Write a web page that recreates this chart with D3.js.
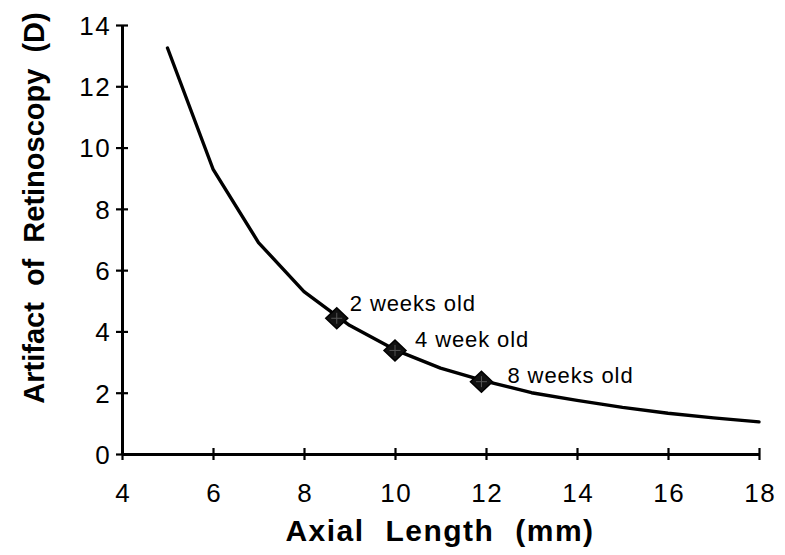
<!DOCTYPE html>
<html>
<head>
<meta charset="utf-8">
<script src="https://cdn.jsdelivr.net/npm/d3@7"></script>
<style>
  html, body { margin: 0; padding: 0; background: #fff; }
  svg { display: block; }
  text { font-family: "Liberation Sans", Arial, Helvetica, sans-serif; fill: #000; }
</style>
</head>
<body>
<svg id="chart" width="785" height="555"></svg>
<script>
// Curve: axial length (mm) vs artifact of retinoscopy (D)
const axialLength = [5, 6, 7, 8, 9, 10, 11, 12, 13, 14, 15, 16, 17, 18];
const artifact = [13.25, 9.3, 6.9, 5.3, 4.2, 3.4, 2.8, 2.37, 2.0, 1.75, 1.52, 1.33, 1.18, 1.05];

// Marked ages
const ageLabels = ["2 weeks old", "4 week old", "8 weeks old"];
const ageAxial = [8.72, 10.0, 11.9];
const ageArtifact = [4.43, 3.38, 2.36];

const xTicks = [4, 6, 8, 10, 12, 14, 16, 18];
const yTicks = [0, 2, 4, 6, 8, 10, 12, 14];

const svg = d3.select("#chart");
const x = d3.scaleLinear().domain([4, 18]).range([122, 759]);
const y = d3.scaleLinear().domain([0, 14]).range([454, 25]);

// Axes
const xAxis = svg.append("g").attr("transform", `translate(0,${y(0)})`)
  .call(d3.axisBottom(x).tickValues(xTicks).tickSize(0).tickPadding(0).tickFormat(() => ""));
xAxis.select(".domain").attr("stroke", "#000").attr("stroke-width", 3);
xAxis.selectAll(".tick line").attr("y1", -6).attr("y2", 6).attr("stroke", "#000").attr("stroke-width", 2.2);
xAxis.selectAll(".tick").append("text")
  .attr("y", 48).attr("x", 0.7).attr("text-anchor", "middle")
  .style("font-size", "26px").style("letter-spacing", "1.4px")
  .text(d => d);

const yAxis = svg.append("g").attr("transform", `translate(${x(4)},0)`)
  .call(d3.axisLeft(y).tickValues(yTicks).tickSize(0).tickPadding(0).tickFormat(() => ""));
yAxis.select(".domain").attr("stroke", "#000").attr("stroke-width", 3);
yAxis.selectAll(".tick line").attr("x1", -6).attr("x2", 6).attr("stroke", "#000").attr("stroke-width", 2.2);
yAxis.selectAll(".tick").append("text")
  .attr("x", -11).attr("dy", "0.36em").attr("text-anchor", "end")
  .style("font-size", "26px").style("letter-spacing", "1.4px")
  .text(d => d);

// Curve
const line = d3.line().x(d => x(d[0])).y(d => y(d[1]));
svg.append("path")
  .datum(axialLength.map((v, i) => [v, artifact[i]]))
  .attr("d", line)
  .attr("fill", "none").attr("stroke", "#000").attr("stroke-width", 3.4)
  .attr("stroke-linejoin", "round").attr("stroke-linecap", "round");

// Markers
const labelOffsets = [[13, -7], [20, -3], [26, 1]];
const markers = svg.append("g").selectAll("g")
  .data(ageAxial.map((v, i) => ({ x: v, y: ageArtifact[i], label: ageLabels[i], off: labelOffsets[i] })))
  .join("g")
  .attr("transform", d => `translate(${x(d.x)},${y(d.y)})`);
markers.append("path")
  .attr("d", "M0,-10.5 L11,0 L0,10.5 L-11,0 Z")
  .attr("fill", "#111").attr("stroke", "#000").attr("stroke-width", 1.5);
markers.append("path")
  .attr("d", "M0,-5.5 L0,5.5 M-5.5,0 L5.5,0")
  .attr("stroke", "#555").attr("stroke-width", 1);
markers.append("text")
  .attr("x", d => d.off[0]).attr("y", d => d.off[1])
  .style("font-size", "22px").style("letter-spacing", "0.9px")
  .text(d => d.label);

// Axis titles
svg.append("text")
  .attr("x", 440).attr("y", 541)
  .attr("text-anchor", "middle")
  .style("font-size", "30px").style("font-weight", "bold")
  .style("letter-spacing", "1.5px").style("word-spacing", "11px")
  .text("Axial Length (mm)");

svg.append("text")
  .attr("transform", "translate(44,208) rotate(-90)")
  .attr("text-anchor", "middle")
  .style("font-size", "29px").style("font-weight", "bold")
  .style("letter-spacing", "0px").style("word-spacing", "8px")
  .text("Artifact of Retinoscopy (D)");
</script>
</body>
</html>
